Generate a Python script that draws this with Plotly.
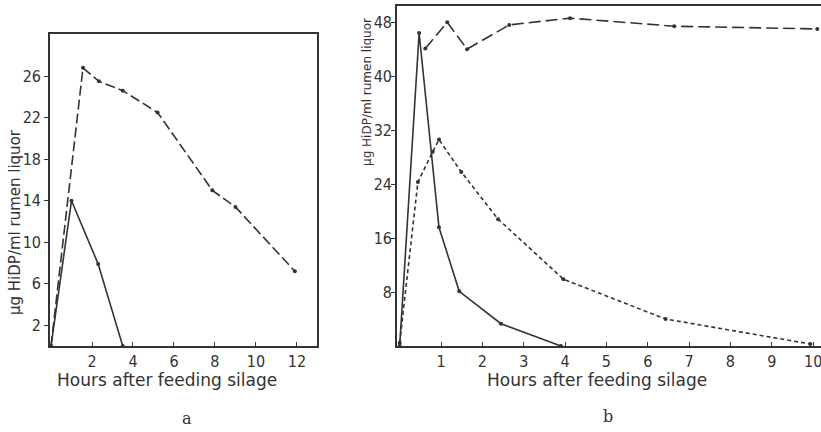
import plotly.graph_objects as go

# ---- data ----
# panel a
a_solid_x = [0, 1.0, 2.3, 3.5]
a_solid_y = [0, 14.0, 7.9, 0]
a_dash_x = [0, 1.56, 2.34, 3.5, 5.2, 7.87, 9.0, 11.9]
a_dash_y = [0, 26.8, 25.5, 24.6, 22.5, 15.0, 13.4, 7.2]
a_xticks = [2, 4, 6, 8, 10, 12]
a_yticks = [2, 6, 10, 14, 18, 22, 26]

# panel b
b_solid_x = [0, 0.47, 0.95, 1.44, 2.45, 3.9]
b_solid_y = [0, 46.4, 17.6, 8.1, 3.3, 0]
b_long_x = [0.62, 1.15, 1.63, 2.65, 4.12, 6.64, 10.1]
b_long_y = [44.1, 48.0, 44.0, 47.6, 48.6, 47.4, 47.0]
b_short_x = [0, 0.44, 0.8, 0.95, 1.49, 2.38, 3.96, 6.43, 9.93]
b_short_y = [0.5, 24.3, 28.8, 30.6, 25.8, 18.8, 9.9, 4.0, 0.3]
b_xticks = [1, 2, 3, 4, 5, 6, 7, 8, 9, 10]
b_yticks = [8, 16, 24, 32, 40, 48]

xlabel = "Hours after feeding silage"
ylabel = "μg HiDP/ml rumen liquor"

W, H = 821, 432
INK = "#333333"
FONT = "DejaVu Sans"
TICKFONT = "Liberation Sans Narrow, DejaVu Sans Condensed, Liberation Sans"

def px(x):
    return x / W

def py(y):
    return 1 - y / H

fig = go.Figure()

def line(x, y, xa, ya, dash, width=1.6):
    fig.add_trace(go.Scatter(
        x=x, y=y, xaxis=xa, yaxis=ya, mode="lines+markers",
        line=dict(color=INK, width=width, dash=dash),
        marker=dict(color=INK, size=4),
        showlegend=False, hoverinfo="skip"))

line(a_solid_x, a_solid_y, "x", "y", "solid")
line(a_dash_x, a_dash_y, "x", "y", "10px,4px")
line(b_solid_x, b_solid_y, "x2", "y2", "solid")
line(b_long_x, b_long_y, "x2", "y2", "12px,5px")
line(b_short_x, b_short_y, "x2", "y2", "4px,3px")

axis_common = dict(showgrid=False, zeroline=False, showline=True,
                   linecolor=INK, linewidth=1.6, tickcolor=INK,
                   tickwidth=1.3, ticklen=4, ticklabeloverflow="allow",
                   tickfont=dict(family=TICKFONT, size=16, color=INK))

fig.update_layout(
    width=W, height=H, margin=dict(l=0, r=0, t=0, b=0),
    paper_bgcolor="white", plot_bgcolor="white",
    xaxis=dict(domain=[px(50), px(317)], range=[-0.05, 12.98],
               tickvals=a_xticks, ticks="inside", mirror=True,
               anchor="y", **axis_common),
    yaxis=dict(domain=[py(346), py(34)], range=[0, 30.06],
               tickvals=a_yticks, ticks="outside", mirror=True,
               anchor="x", **axis_common),
    xaxis2=dict(domain=[px(397), 1.0], range=[-0.065, 10.19],
                tickvals=b_xticks, ticks="inside", mirror=True,
                anchor="y2", **axis_common),
    yaxis2=dict(domain=[py(346), py(6)], range=[0, 50.4],
                tickvals=b_yticks, ticks="outside", mirror=False,
                anchor="x2", ticklabelstandoff=-4, **axis_common),
)

def note(text, x, y, size=15, family=FONT, angle=0):
    return dict(text=text, x=px(x), y=py(y), xref="paper", yref="paper",
                xanchor="center", yanchor="middle", textangle=angle,
                showarrow=False, font=dict(family=family, size=size, color=INK))

ann = [
    note(xlabel, 167, 380, size=17),
    note(xlabel, 597, 380, size=17),
    note(ylabel, 15, 222, angle=-90),
    note(ylabel, 367, 92, size=12, angle=-90),
    note("a", 187, 418, size=16, family="DejaVu Serif"),
    note("b", 608, 416, size=16, family="DejaVu Serif"),
]
fig.update_layout(annotations=ann)

fig.write_html("out.html")
